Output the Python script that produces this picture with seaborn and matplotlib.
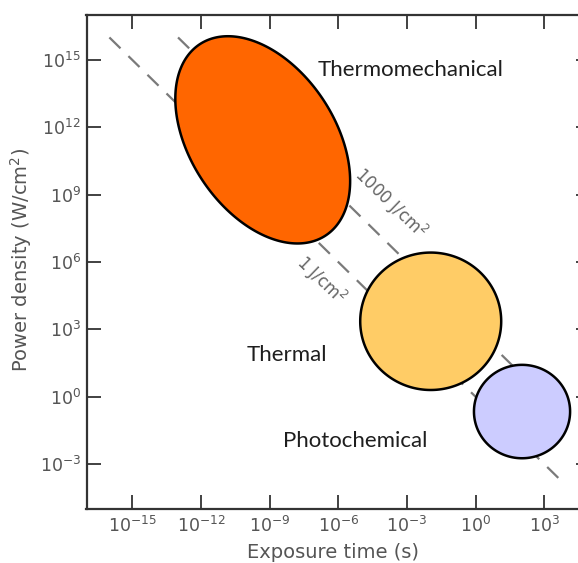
import numpy as np
import pandas as pd
import matplotlib
matplotlib.use("Agg")
import matplotlib.pyplot as plt
import seaborn as sns

# ---- data (log10 units) ----
# fluence lines: P = F / t
fluences = [1, 1000]                 # J/cm^2
fluence_labels = ["1 J/cm$^2$", "1000 J/cm$^2$"]
line_log_t_start = [-16.0, -13.0]
line_log_t_end = [3.7, 2.5]

# interaction regions (ellipses in log-log space)
region_names = ["Thermomechanical", "Thermal", "Photochemical"]
region_center_log_t = [-9.3, -1.96, 2.03]
region_center_log_p = [11.44, 3.36, -0.66]
region_semi_a = [5.07, 3.08, 2.10]     # decades
region_semi_b = [3.19, 3.06, 2.08]     # decades
region_angle_deg = [-57.8, 0.0, 0.0]
region_colors = ["#FF6600", "#FFCC66", "#CCCCFF"]

# region label positions (log10 t, log10 P)
label_log_t = [-6.9, -10.0, -8.4]
label_log_p = [14.54, 1.87, -1.97]

x_ticks = [1e-15, 1e-12, 1e-9, 1e-6, 1e-3, 1e0, 1e3]
y_ticks = [1e15, 1e12, 1e9, 1e6, 1e3, 1e0, 1e-3]

# ---- figure ----
sns.set_style("ticks")
plt.rcParams["font.family"] = ["DejaVu Sans"]

fig = plt.figure(figsize=(5.78, 5.63), dpi=100)
ax = fig.add_axes([86.5 / 578, 54 / 563, 503.5 / 578, 494 / 563])
ax.set_xscale("log")
ax.set_yscale("log")

gray_line = "#7a7a7a"
for F, t0, t1 in zip(fluences, line_log_t_start, line_log_t_end):
    t = np.array([10 ** t0, 10 ** t1])
    df = pd.DataFrame({"t": t, "P": F / t})
    sns.lineplot(data=df, x="t", y="P", ax=ax, color=gray_line, lw=1.6,
                 linestyle=(0, (7, 5)), estimator=None, sort=False, zorder=1)

theta = np.linspace(0, 2 * np.pi, 400)
for cx, cy, a, b, ang, col in zip(region_center_log_t, region_center_log_p,
                                  region_semi_a, region_semi_b,
                                  region_angle_deg, region_colors):
    r = np.deg2rad(ang)
    ex = cx + a * np.cos(theta) * np.cos(r) - b * np.sin(theta) * np.sin(r)
    ey = cy + a * np.cos(theta) * np.sin(r) + b * np.sin(theta) * np.cos(r)
    ax.fill(10 ** ex, 10 ** ey, facecolor=col, edgecolor="black", lw=1.8, zorder=3)

for name, lx, ly in zip(region_names, label_log_t, label_log_p):
    ax.text(10 ** lx, 10 ** ly, name, ha="left", va="center", fontsize=16,
            family=["Lato", "DejaVu Sans"], color="#1e1e1e", zorder=5)

# fluence labels
ax.text(10 ** -6.76, 10 ** 5.2, fluence_labels[0], rotation=-44, rotation_mode="anchor",
        ha="center", va="center", fontsize=12, color="#666666", zorder=5)
ax.text(10 ** -3.74, 10 ** 8.61, fluence_labels[1], rotation=-44, rotation_mode="anchor",
        ha="center", va="center", fontsize=12, color="#666666", zorder=5)

ax.set_xlim(1e-17, 1e5)
ax.set_ylim(1e-5, 1e17)
ax.set_xticks(x_ticks)
ax.set_yticks(y_ticks)
ax.minorticks_off()
ax.tick_params(axis="both", which="major", direction="in", length=10, width=1.3,
               top=True, right=True, color="#333333", labelcolor="#555555",
               labelsize=12.5)
ax.tick_params(axis="x", pad=5)
ax.tick_params(axis="y", pad=4)
for s in ax.spines.values():
    s.set_linewidth(1.6)
    s.set_color("#333333")

ax.set_xlabel("Exposure time (s)", fontsize=14, color="#555555")
ax.set_ylabel("Power density (W/cm$^2$)", fontsize=14, color="#555555")
ax.xaxis.set_label_coords(0.49, -0.068)
ax.yaxis.set_label_coords(-0.104, 0.504)

fig.savefig("out.png", dpi=100)
